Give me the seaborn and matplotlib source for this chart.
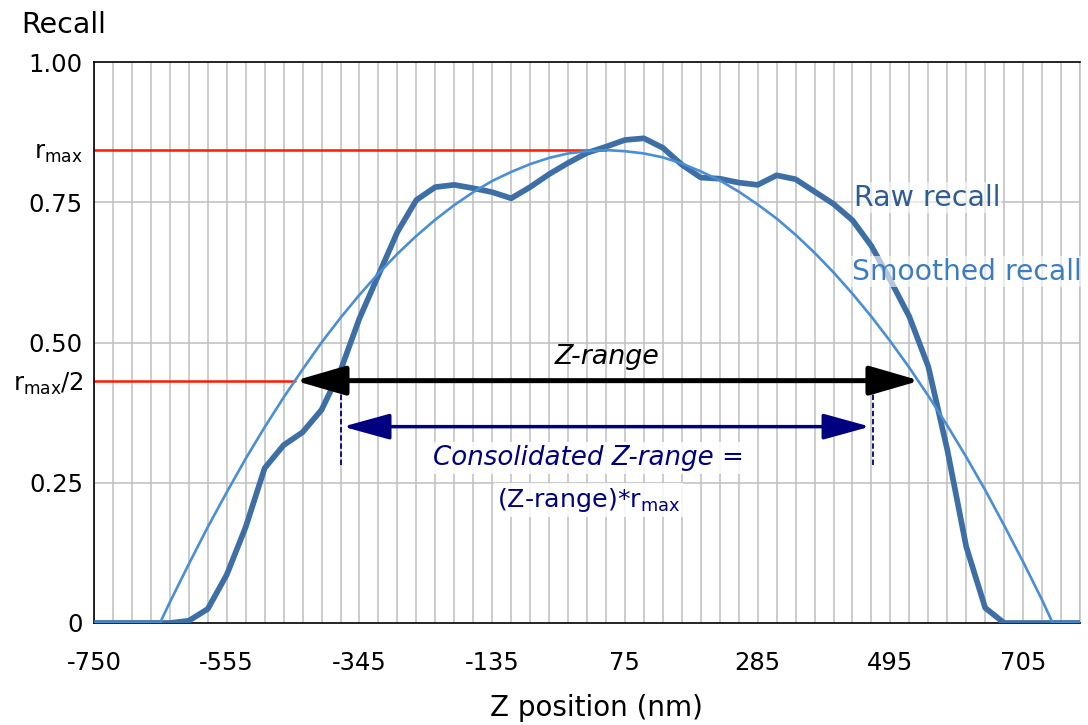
import numpy as np
import pandas as pd
import matplotlib
matplotlib.use("Agg")
import matplotlib.pyplot as plt
import seaborn as sns

# ---------------- data ----------------
# categories: 53 Z positions on a category axis (labels shown every 7th)
tick_labels = ["-750", "-555", "-345", "-135", "75", "285", "495", "705"]
n_categories = 53

raw_recall = [0, 0, 0, 0, 0, 0.004, 0.025, 0.086, 0.171, 0.276,
              0.317, 0.340, 0.380, 0.450, 0.543, 0.620, 0.697, 0.754, 0.777, 0.781,
              0.775, 0.768, 0.757, 0.777, 0.800, 0.820, 0.838, 0.849, 0.861, 0.864,
              0.847, 0.817, 0.794, 0.792, 0.785, 0.781, 0.798, 0.791, 0.769, 0.747,
              0.718, 0.672, 0.611, 0.546, 0.457, 0.309, 0.136, 0.027, 0, 0,
              0, 0, 0]

smooth_pos = [0, 3.48, 4, 5, 6, 7, 8, 9, 10, 11, 12, 13, 14, 15, 16, 17, 18, 19,
              20, 21, 22, 23, 24, 25, 26, 27, 28, 29, 30, 31, 32, 33, 34, 35, 36,
              37, 38, 39, 40, 41, 42, 43, 44, 45, 46, 47, 48, 49, 50, 50.56, 52]
smooth_recall = [0, 0, 0.037, 0.105, 0.171, 0.233, 0.293, 0.349, 0.402, 0.452,
                 0.500, 0.544, 0.585, 0.623, 0.658, 0.690, 0.719, 0.745, 0.768,
                 0.788, 0.804, 0.818, 0.829, 0.837, 0.841, 0.843, 0.841, 0.837,
                 0.830, 0.819, 0.805, 0.789, 0.769, 0.746, 0.721, 0.692, 0.660,
                 0.625, 0.587, 0.546, 0.502, 0.455, 0.405, 0.352, 0.296, 0.237,
                 0.174, 0.109, 0.041, 0, 0]

r_max = 0.843
r_half = 0.432
zrange_ends = [10.6, 43.56]          # black arrow (category positions)
consolidated_ends = [13.13, 40.93]   # navy arrow
dash_pos = [13.0, 41.1]
dash_y = [0.282, 0.432]
rmax_line_end = 27.0

# ---------------- style ----------------
sns.set_style("white")
plt.rcParams["font.family"] = ["DejaVu Sans"]
plt.rcParams["text.color"] = "black"
plt.rcParams["xtick.color"] = "black"
plt.rcParams["ytick.color"] = "black"

fig = plt.figure(figsize=(10.88, 7.25), dpi=100)
ax = fig.add_axes([94 / 1088, 1 - 623 / 725, (1080 - 94) / 1088, (623 - 62) / 725])

raw_color = "#3D6FA6"
smooth_color = "#4A8ED6"
grid_color = "#BFBFBF"

idx = np.arange(n_categories)
df_raw = pd.DataFrame({"pos": idx, "recall": raw_recall})
df_smooth = pd.DataFrame({"pos": smooth_pos, "recall": smooth_recall})

# grid
for x in idx:
    ax.axvline(x, color=grid_color, lw=1.1, zorder=0)
for y in [0.25, 0.5, 0.75]:
    ax.axhline(y, color=grid_color, lw=1.1, zorder=0)

# red reference lines
ax.plot([0, rmax_line_end], [r_max, r_max], color="#FF1A00", lw=1.8, zorder=2)
ax.plot([0, zrange_ends[0]], [r_half, r_half], color="#FF1A00", lw=1.8, zorder=2)

sns.lineplot(data=df_raw, x="pos", y="recall", ax=ax, color=raw_color, lw=4.1,
             zorder=3, solid_joinstyle="round", solid_capstyle="butt")
sns.lineplot(data=df_smooth, x="pos", y="recall", ax=ax, color=smooth_color, lw=1.9,
             zorder=4)

# arrows
ax.annotate("", xy=(zrange_ends[1], r_half), xytext=(zrange_ends[0], r_half),
            arrowprops=dict(arrowstyle="<|-|>,head_length=3.1,head_width=0.9",
                            mutation_scale=10, lw=3.6, color="black",
                            shrinkA=0, shrinkB=0), zorder=6)
ax.annotate("", xy=(consolidated_ends[1], 0.35), xytext=(consolidated_ends[0], 0.35),
            arrowprops=dict(arrowstyle="<|-|>,head_length=2.9,head_width=0.8",
                            mutation_scale=10, lw=2.5, color="#000080",
                            shrinkA=0, shrinkB=0), zorder=6)
for xd in dash_pos:
    ax.plot([xd, xd], dash_y, color="#000080", lw=1.3, ls=(0, (3, 1.5)), zorder=5)

# texts
ax.text(27.06, 0.474, "Z-range", ha="center", va="center", fontsize=19.4,
        style="italic", color="black", zorder=7)
ax.text(26.05, 0.294, "Consolidated Z-range =", ha="center", va="center",
        fontsize=18.8, style="italic", color="#000080", zorder=7,
        bbox=dict(facecolor="white", edgecolor="none", alpha=0.85, pad=2))
ax.text(26.1, 0.219, r"(Z-range)*$\mathregular{r_{max}}$", ha="center", va="center",
        fontsize=18.3, color="#000080", zorder=7,
        bbox=dict(facecolor="white", edgecolor="none", alpha=0.85, pad=2))
ax.text(40.1, 0.758, "Raw recall", ha="left", va="center", fontsize=20.5,
        color="#2E5D8F", zorder=7,
        bbox=dict(facecolor="white", edgecolor="none", alpha=0.6, pad=1))
ax.text(39.95, 0.626, "Smoothed recall", ha="left", va="center", fontsize=20.3,
        color="#3C7DC2", zorder=7,
        bbox=dict(facecolor="white", edgecolor="none", alpha=0.6, pad=1))

# axes
ax.set_xlim(0, n_categories - 1)
ax.set_ylim(0, 1)
ax.set_xticks(idx[::7])
ax.set_xticklabels(tick_labels, fontsize=17.5)
ax.set_xticks(np.arange(0, n_categories - 0.5, 0.5), minor=True)
ax.tick_params(axis="x", which="major", direction="inout", length=9, width=1.1,
               pad=16, color="black")
ax.tick_params(axis="x", which="minor", direction="inout", length=5, width=1.0,
               color="black")
ytick_vals = [0, 0.25, 0.5, 0.75, 1.0, r_max, r_half]
ytick_text = ["0", "0.25", "0.50", "0.75", "1.00",
              r"$\mathregular{r_{max}}$", r"$\mathregular{r_{max}/2}$"]
ax.set_yticks(ytick_vals)
ax.set_yticklabels(ytick_text, fontsize=17.5)
ax.tick_params(axis="y", length=0, pad=8)
ax.set_xlabel("")
ax.set_ylabel("")

for s in ["left", "bottom", "top"]:
    ax.spines[s].set_color("black")
    ax.spines[s].set_linewidth(1.2)
    ax.spines[s].set_visible(True)
ax.spines["right"].set_color(grid_color)
ax.spines["right"].set_linewidth(1.1)

fig.text(64 / 1088, 1 - 25 / 725, "Recall", ha="center", va="center", fontsize=20.5)
fig.text(596 / 1088, 1 - 708 / 725, "Z position (nm)", ha="center", va="center",
         fontsize=20)

fig.savefig("out.png", dpi=100)
